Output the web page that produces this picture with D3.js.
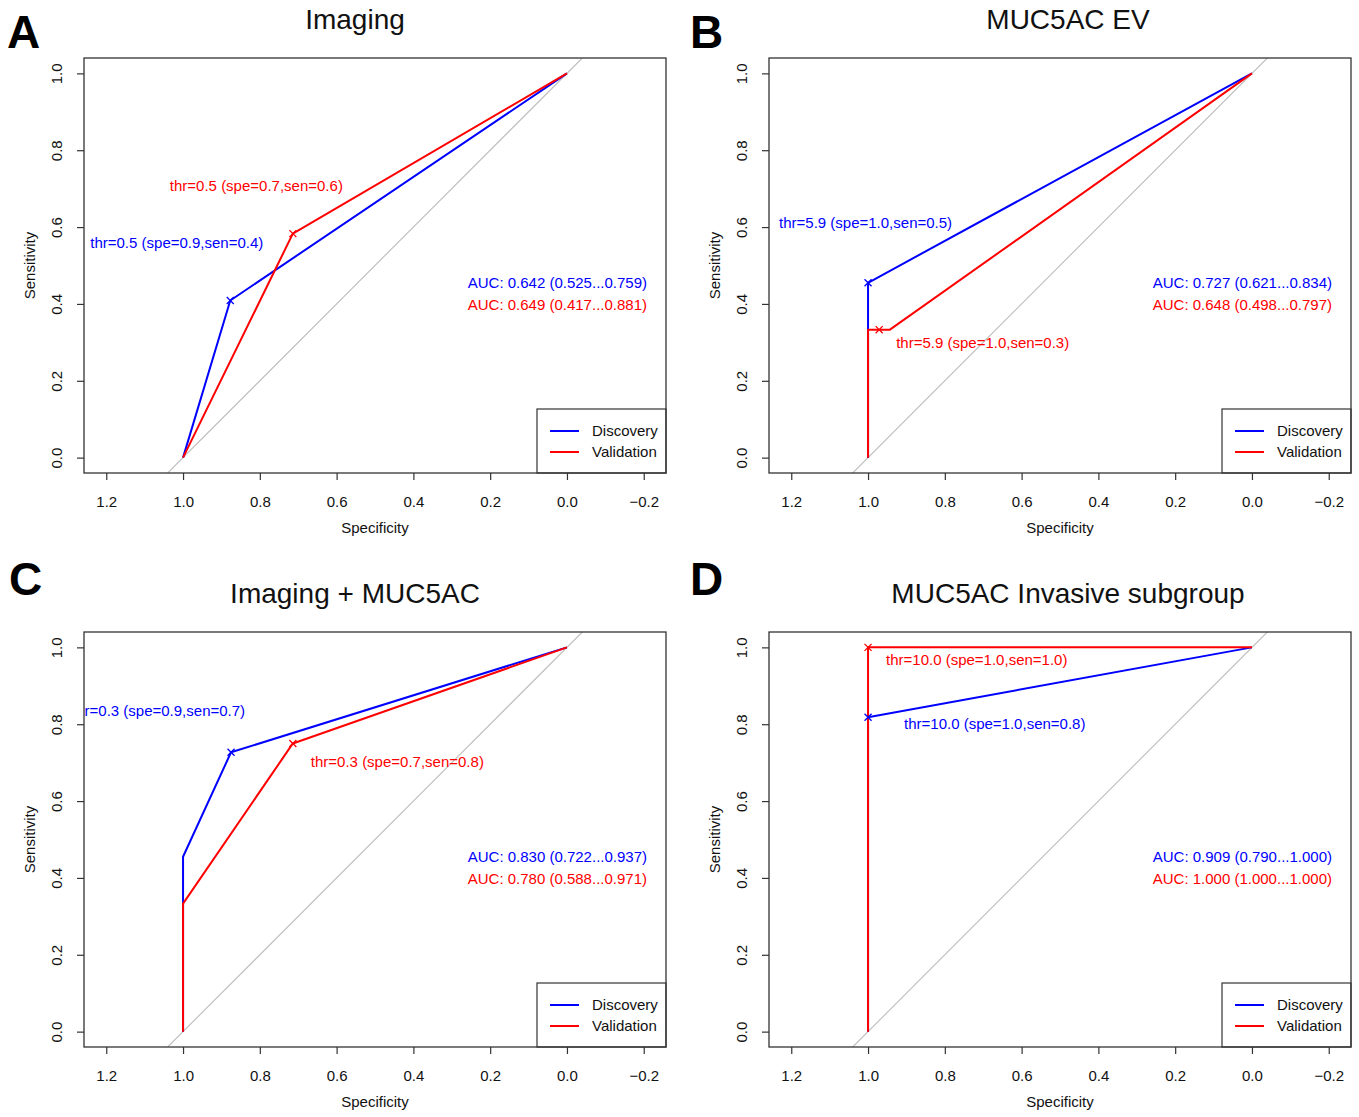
<!DOCTYPE html>
<html>
<head>
<meta charset="utf-8">
<title>ROC curves</title>
<script src="https://cdn.jsdelivr.net/npm/d3@7/dist/d3.min.js"></script>
<style>
body { margin: 0; background: #fff; }
svg text { font-family: "Liberation Sans", Arial, Helvetica, sans-serif; fill: #111; }
.tick line { stroke: #333; stroke-width: 1.2; }
.tick text { font-size: 15px; }
.frame { fill: none; stroke: #333; stroke-width: 1.3; }
</style>
</head>
<body>
<svg width="1359" height="1117"></svg>
<script>

// ---- data ----
var panelLetters = ["A", "B", "C", "D"];
var panelTitles = ["Imaging", "MUC5AC EV", "Imaging + MUC5AC", "MUC5AC Invasive subgroup"];

var discoverySpec = [[1, 0.877, 0], [1, 1, 0], [1, 1, 0.875, 0], [1, 1, 0]];
var discoverySens = [[0, 0.409, 1], [0, 0.455, 1], [0, 0.455, 0.727, 1], [0, 0.818, 1]];
var validationSpec = [[1, 0.714, 0], [1, 1, 0.971, 0.943, 0], [1, 1, 0.714, 0], [1, 1, 0]];
var validationSens = [[0, 0.583, 1], [0, 0.333, 0.333, 0.333, 1], [0, 0.333, 0.75, 1], [0, 1, 1]];

var discThrSpec = [0.877, 1, 0.875, 1];
var discThrSens = [0.409, 0.455, 0.727, 0.818];
var discThrLabel = ["thr=0.5 (spe=0.9,sen=0.4)", "thr=5.9 (spe=1.0,sen=0.5)",
                    "thr=0.3 (spe=0.9,sen=0.7)", "thr=10.0 (spe=1.0,sen=0.8)"];
var valThrSpec = [0.714, 0.971, 0.714, 1];
var valThrSens = [0.583, 0.333, 0.75, 1];
var valThrLabel = ["thr=0.5 (spe=0.7,sen=0.6)", "thr=5.9 (spe=1.0,sen=0.3)",
                   "thr=0.3 (spe=0.7,sen=0.8)", "thr=10.0 (spe=1.0,sen=1.0)"];

var discAuc = ["AUC: 0.642 (0.525...0.759)", "AUC: 0.727 (0.621...0.834)",
               "AUC: 0.830 (0.722...0.937)", "AUC: 0.909 (0.790...1.000)"];
var valAuc = ["AUC: 0.649 (0.417...0.881)", "AUC: 0.648 (0.498...0.797)",
              "AUC: 0.780 (0.588...0.971)", "AUC: 1.000 (1.000...1.000)"];

var seriesNames = ["Discovery", "Validation"];
var xTicks = [1.2, 1.0, 0.8, 0.6, 0.4, 0.2, 0.0, -0.2];
var yTicks = [0.0, 0.2, 0.4, 0.6, 0.8, 1.0];

// ---- layout ----
var colors = ["#0000ff", "#ff0000"];
var boxW = 582, boxH = 415;
var origins = [[84, 58], [769, 58], [84, 632], [769, 632]];
var letterPos = [[7, 48], [690, 48], [9, 595], [690, 595]];
var titleShift = [-20, 8, -20, 8];
// threshold label offset from the marker: [dx to text start, dy to text middle]
var discLabelOff = [[-140, -58], [-89, -60], [-159, -42], [36, 6]];
var valLabelOff = [[-123, -48], [17, 13], [18, 18], [18, 12]];

var svg = d3.select("svg");

var x = d3.scaleLinear().domain([1.258, -0.258]).range([0, boxW]);
var y = d3.scaleLinear().domain([-0.04, 1.04]).range([boxH, 0]);

var line = d3.line()
    .x(function(d) { return x(d[0]); })
    .y(function(d) { return y(d[1]); });

var cross = d3.symbol().type(d3.symbolX).size(34);
var fmt = d3.format(".1f");

panelTitles.forEach(function(title, i) {
  var g = svg.append("g")
      .attr("transform", "translate(" + origins[i][0] + "," + origins[i][1] + ")");

  svg.append("text")
      .attr("x", letterPos[i][0])
      .attr("y", letterPos[i][1])
      .style("font-size", "46px")
      .style("font-weight", "bold")
      .style("fill", "#000")
      .text(panelLetters[i]);

  g.append("text")
      .attr("x", boxW / 2 + titleShift[i])
      .attr("y", -29)
      .attr("text-anchor", "middle")
      .style("font-size", "28px")
      .text(title);

  g.append("clipPath")
      .attr("id", "clip" + i)
    .append("rect")
      .attr("width", boxW)
      .attr("height", boxH);

  var plot = g.append("g").attr("clip-path", "url(#clip" + i + ")");

  // chance diagonal
  var yd = y.domain();
  plot.append("path")
      .attr("d", line([[1 - yd[0], yd[0]], [1 - yd[1], yd[1]]]))
      .attr("fill", "none")
      .attr("stroke", "#bdbdbd")
      .attr("stroke-width", 1.1);

  var curves = [
    {spec: discoverySpec[i], sens: discoverySens[i], ts: discThrSpec[i], tn: discThrSens[i],
     lab: discThrLabel[i], off: discLabelOff[i]},
    {spec: validationSpec[i], sens: validationSens[i], ts: valThrSpec[i], tn: valThrSens[i],
     lab: valThrLabel[i], off: valLabelOff[i]}
  ];

  curves.forEach(function(c, k) {
    var pts = c.spec.map(function(s, j) { return [s, c.sens[j]]; });
    plot.append("path")
        .attr("d", line(pts))
        .attr("fill", "none")
        .attr("stroke", colors[k])
        .attr("stroke-width", 2)
        .attr("stroke-linejoin", "round");
  });

  curves.forEach(function(c, k) {
    plot.append("path")
        .attr("d", cross())
        .attr("transform", "translate(" + x(c.ts) + "," + y(c.tn) + ")")
        .attr("fill", "none")
        .attr("stroke", colors[k])
        .attr("stroke-width", 1.3);

    plot.append("text")
        .attr("x", x(c.ts) + c.off[0])
        .attr("y", y(c.tn) + c.off[1])
        .attr("dy", "0.35em")
        .style("font-size", "15px")
        .style("fill", colors[k])
        .text(c.lab);
  });

  // AUC text
  [discAuc[i], valAuc[i]].forEach(function(t, k) {
    g.append("text")
        .attr("x", boxW - 19)
        .attr("y", 225 + k * 22)
        .attr("dy", "0.35em")
        .attr("text-anchor", "end")
        .style("font-size", "15px")
        .style("fill", colors[k])
        .text(t);
  });

  // axes
  var xAxis = g.append("g")
      .attr("transform", "translate(0," + boxH + ")")
      .call(d3.axisBottom(x).tickValues(xTicks).tickFormat(fmt).tickSize(7).tickPadding(16));
  xAxis.select(".domain").remove();

  var yAxis = g.append("g")
      .call(d3.axisLeft(y).tickValues(yTicks).tickFormat(fmt).tickSize(7));
  yAxis.select(".domain").remove();
  yAxis.selectAll(".tick text")
      .attr("x", 0)
      .attr("dy", "0.35em")
      .attr("text-anchor", "middle")
      .attr("transform", "translate(-27,0) rotate(-90)");

  g.append("text")
      .attr("transform", "translate(-54," + boxH / 2 + ") rotate(-90)")
      .attr("text-anchor", "middle")
      .attr("dy", "0.35em")
      .style("font-size", "15px")
      .text("Sensitivity");

  g.append("text")
      .attr("x", boxW / 2)
      .attr("y", boxH + 55)
      .attr("dy", "0.35em")
      .attr("text-anchor", "middle")
      .style("font-size", "15px")
      .text("Specificity");

  // legend
  var lg = g.append("g").attr("transform", "translate(" + (boxW - 129) + "," + (boxH - 64) + ")");
  lg.append("rect")
      .attr("width", 129)
      .attr("height", 64)
      .attr("fill", "#fff")
      .attr("stroke", "#333")
      .attr("stroke-width", 1.2);
  seriesNames.forEach(function(n, k) {
    lg.append("line")
        .attr("x1", 13).attr("x2", 42)
        .attr("y1", 22 + k * 21).attr("y2", 22 + k * 21)
        .attr("stroke", colors[k])
        .attr("stroke-width", 2);
    lg.append("text")
        .attr("x", 55)
        .attr("y", 22 + k * 21)
        .attr("dy", "0.35em")
        .style("font-size", "15px")
        .text(n);
  });

  g.append("rect")
      .attr("class", "frame")
      .attr("width", boxW)
      .attr("height", boxH);
});

</script>
</body>
</html>
